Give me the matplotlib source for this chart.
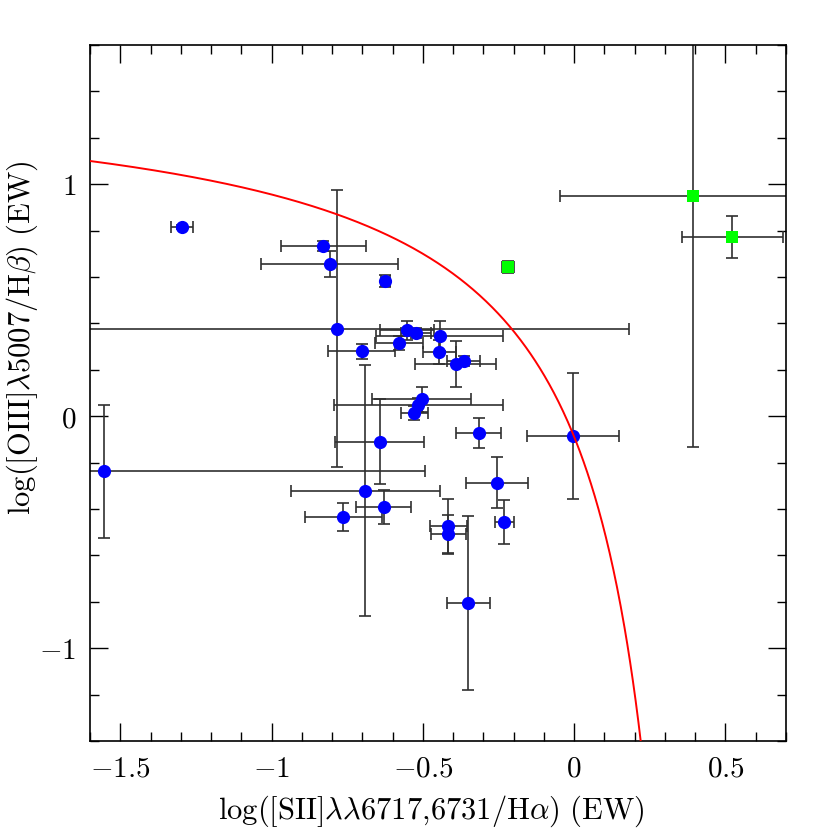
import numpy as np
import matplotlib
matplotlib.use("Agg")
import matplotlib.pyplot as plt
from matplotlib.ticker import MultipleLocator, FuncFormatter

# ---- data (log [SII]/Halpha, log [OIII]/Hbeta, EW) ----
blue_x = [-1.296, -0.829, -0.808, -0.785, -0.625, -0.702, -0.553, -0.523, -0.444, -0.579,
          -0.446, -0.392, -0.365, -0.504, -0.515, -0.528, -0.316, -0.643, -0.691, -0.256,
          -1.554, -0.630, -0.763, -0.416, -0.416, -0.350, -0.231, -0.003]
blue_y = [0.816, 0.734, 0.657, 0.377, 0.584, 0.280, 0.370, 0.359, 0.346, 0.317,
          0.277, 0.224, 0.238, 0.073, 0.050, 0.012, -0.073, -0.110, -0.321, -0.287,
          -0.238, -0.393, -0.434, -0.473, -0.509, -0.806, -0.456, -0.085]
blue_xerr = [0.035, 0.140, 0.227, 0.966, 0.015, 0.110, 0.090, 0.050, 0.210, 0.078,
             0.055, 0.135, 0.055, 0.163, 0.280, 0.045, 0.074, 0.146, 0.246, 0.102,
             1.060, 0.091, 0.127, 0.062, 0.058, 0.071, 0.032, 0.152]
blue_yerr = [0.010, 0.020, 0.056, 0.598, 0.025, 0.032, 0.040, 0.020, 0.066, 0.030,
             0.050, 0.100, 0.020, 0.055, 0.030, 0.030, 0.064, 0.184, 0.540, 0.110,
             0.285, 0.073, 0.062, 0.117, 0.084, 0.375, 0.095, 0.272]

green_x = [-0.219, 0.392, 0.523]
green_y = [0.643, 0.949, 0.774]
green_xerr = [0.021, 0.440, 0.166]
green_yerr = [0.027, 1.080, 0.090]

# demarcation curve parameters: y = a / (x - b) + c
curve_a, curve_b, curve_c = 0.74, 0.479, 1.456

plt.rcParams['mathtext.fontset'] = 'cm'
plt.rcParams['font.family'] = 'serif'

fig = plt.figure(figsize=(8.3, 8.3), dpi=100)
ax = fig.add_axes([90/830, 89/830, 696/830, 696/830])

ebkw = dict(fmt='none', ecolor='#303030', elinewidth=1.2, capsize=4.5, capthick=1.2, zorder=2)
ax.errorbar(blue_x, blue_y, xerr=blue_xerr, yerr=blue_yerr, **ebkw)
ax.errorbar(green_x, green_y, xerr=green_xerr, yerr=green_yerr, **ebkw)
ax.plot(blue_x, blue_y, 'o', color='#0000ff', markersize=9.5, markeredgewidth=0, zorder=3)
ax.plot(green_x, green_y, 's', color='#00ff00', markersize=8.5, markeredgewidth=0, zorder=3)

xc = np.linspace(-1.6, 0.24, 600)
yc = curve_a / (xc - curve_b) + curve_c
ax.plot(xc, yc, color='#ff0000', lw=1.4, zorder=4)

ax.set_xlim(-1.6, 0.7)
ax.set_ylim(-1.4, 1.6)

ax.xaxis.set_major_locator(MultipleLocator(0.5))
ax.xaxis.set_minor_locator(MultipleLocator(0.1))
ax.yaxis.set_major_locator(MultipleLocator(1.0))
ax.yaxis.set_minor_locator(MultipleLocator(0.2))

def fmt(v, pos):
    if abs(v) < 1e-9:
        return r'$0$'
    return r'$%g$' % v

ax.xaxis.set_major_formatter(FuncFormatter(fmt))
ax.yaxis.set_major_formatter(FuncFormatter(fmt))

ax.tick_params(which='both', direction='in', top=True, right=True, labelsize=21, pad=10)
ax.tick_params(which='major', length=13, width=1.0)
ax.tick_params(which='minor', length=6.5, width=1.0)
for s in ax.spines.values():
    s.set_linewidth(1.2)

ax.set_xlabel(r'$\mathrm{log([SII]\lambda\lambda6717{,}6731/H\alpha)\ (EW)}$', fontsize=22, labelpad=6)
ax.set_ylabel(r'$\mathrm{log([OIII]\lambda5007/H\beta)\ (EW)}$', fontsize=22, labelpad=4,
              va='center', ha='center')
ax.xaxis.set_label_coords((431 - 90) / 696, -0.075)
ax.yaxis.set_label_coords((22 - 90) / 696, (741 - 338) / 696)

fig.savefig('out.png', dpi=100)
